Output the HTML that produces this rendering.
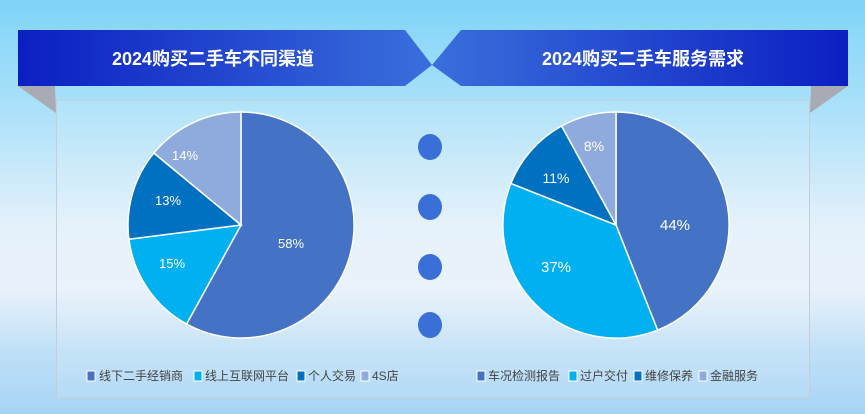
<!DOCTYPE html>
<html><head><meta charset="utf-8"><style>
html,body{margin:0;padding:0}
body{width:865px;height:414px;overflow:hidden;position:relative;font-family:"Liberation Sans","Noto Sans CJK SC",sans-serif;
background:linear-gradient(180deg,#7fd4f8 0%,#a9e0fa 25%,#e4f1fb 55%,#e8f1fb 70%,#bfe0f7 85%,#a7d4f5 100%);}
svg{position:absolute;left:0;top:0}
</style></head><body>
<svg width="865" height="414" viewBox="0 0 865 414">
<defs>
<linearGradient id="bl" x1="0" x2="1"><stop offset="0" stop-color="#0b1fc2"/><stop offset="1" stop-color="#3a6fdc"/></linearGradient>
<linearGradient id="br" x1="0" x2="1"><stop offset="0" stop-color="#3a6fdc"/><stop offset="1" stop-color="#0b1fc2"/></linearGradient>
</defs>
<path d="M18 86 L55 86 L56 113 Z" fill="#a8aab4"/>
<path d="M848 86 L811 86 L810 113 Z" fill="#a8aab4"/>
<rect x="56.5" y="100" width="753" height="298" fill="rgba(255,255,255,0.1)" stroke="#c8ccd4" stroke-width="1"/>
<path d="M18 30 L405 30 L432 65 L405 86 L18 86 Z" fill="url(#bl)"/>
<path d="M848 30 L461 30 L432 65 L461 86 L848 86 Z" fill="url(#br)"/>
<text x="213" y="65" fill="#fff" font-size="18" font-weight="bold" text-anchor="middle">2024购买二手车不同渠道</text>
<text x="643" y="65" fill="#fff" font-size="18" font-weight="bold" text-anchor="middle">2024购买二手车服务需求</text>
<g stroke="#fff" stroke-width="1.5">
<path d="M241 225 L241 112 A113 113 0 1 1 186.6 324 Z" fill="#4472C4"/>
<path d="M241 225 L186.6 324 A113 113 0 0 1 128.9 239.2 Z" fill="#00B0F0"/>
<path d="M241 225 L128.9 239.2 A113 113 0 0 1 153.9 153 Z" fill="#0070C0"/>
<path d="M241 225 L153.9 153 A113 113 0 0 1 241 112 Z" fill="#8FAADC"/>
<path d="M616 225 L616 112 A113 113 0 0 1 657.6 330.1 Z" fill="#4472C4"/>
<path d="M616 225 L657.6 330.1 A113 113 0 0 1 510.9 183.4 Z" fill="#00B0F0"/>
<path d="M616 225 L510.9 183.4 A113 113 0 0 1 561.6 126 Z" fill="#0070C0"/>
<path d="M616 225 L561.6 126 A113 113 0 0 1 616 112 Z" fill="#8FAADC"/>
</g>
<g fill="#fff" font-size="13" text-anchor="middle">
<text x="291" y="248">58%</text><text x="172" y="268">15%</text>
<text x="168" y="205">13%</text><text x="185" y="160">14%</text>
<text x="675" y="230" font-size="15">44%</text><text x="556" y="272" font-size="15">37%</text>
<text x="556" y="183" font-size="14">11%</text><text x="594" y="151" font-size="14">8%</text>
</g>
<g fill="#3a6fd8">
<ellipse cx="430" cy="147" rx="12" ry="13"/><ellipse cx="430" cy="207" rx="12" ry="13"/>
<ellipse cx="430" cy="267" rx="12" ry="13"/><ellipse cx="430" cy="325" rx="12" ry="13"/>
</g>
<g font-size="12" fill="#444">
<rect x="87" y="371" width="8" height="10" fill="#4472C4" stroke="#fff"/><text x="99" y="380">线下二手经销商</text>
<rect x="194" y="371" width="8" height="10" fill="#00B0F0" stroke="#fff"/><text x="205" y="380">线上互联网平台</text>
<rect x="297" y="371" width="8" height="10" fill="#0070C0" stroke="#fff"/><text x="308" y="380">个人交易</text>
<rect x="361" y="371" width="8" height="10" fill="#8FAADC" stroke="#fff"/><text x="372" y="380">4S店</text>
<rect x="477" y="371" width="8" height="10" fill="#4472C4" stroke="#fff"/><text x="488" y="380">车况检测报告</text>
<rect x="569" y="371" width="8" height="10" fill="#00B0F0" stroke="#fff"/><text x="580" y="380">过户交付</text>
<rect x="634" y="371" width="8" height="10" fill="#0070C0" stroke="#fff"/><text x="645" y="380">维修保养</text>
<rect x="699" y="371" width="8" height="10" fill="#8FAADC" stroke="#fff"/><text x="710" y="380">金融服务</text>
</g>
</svg>
</body></html>
